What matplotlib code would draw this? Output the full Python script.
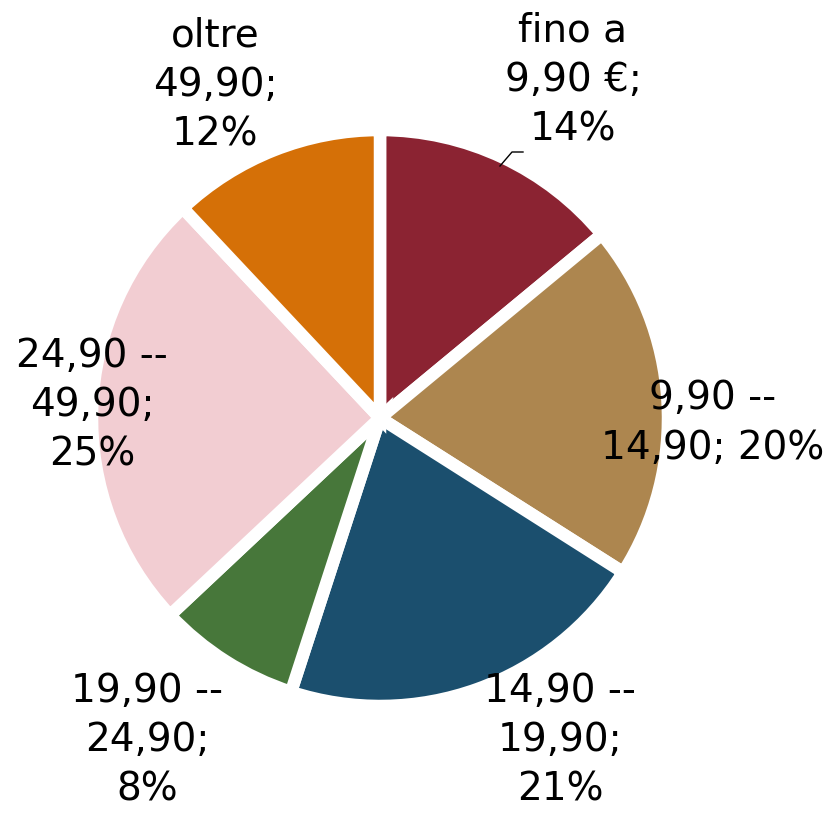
import matplotlib.pyplot as plt

labels = ["fino a\n9,90 €;\n14%", "9,90 --\n14,90; 20%", "14,90 --\n19,90;\n21%",
          "19,90 --\n24,90;\n8%", "24,90 --\n49,90;\n25%", "oltre\n49,90;\n12%"]
shares = [14, 20, 21, 8, 25, 12]
colors = ["#8B2332", "#AD864F", "#1B4F6E", "#47773A", "#F2CDD2", "#D57007"]

# label centres in pixels (from top-left)
label_pos = [(573, 80), (713, 423), (560, 740), (147, 740), (92, 405), (215, 85)]

W, H = 837, 815
fig = plt.figure(figsize=(W / 100, H / 100), dpi=100)
ax = fig.add_axes([0, 0, 1, 1])
ax.set_aspect("equal")
ax.axis("off")

ax.pie(shares, colors=colors, startangle=90, counterclock=False,
       center=(380, H - 418), radius=288,
       wedgeprops=dict(edgecolor="white", linewidth=9))
ax.set_xlim(0, W)
ax.set_ylim(0, H)

for txt, (x, y) in zip(labels, label_pos):
    ax.text(x, H - y, txt, ha="center", va="center", fontsize=28,
            family="DejaVu Sans", linespacing=1.38)

# leader line for the first label
ax.plot([523, 512, 500], [H - 152, H - 152, H - 166], color="black", lw=1)

fig.savefig("out.png", dpi=100)
